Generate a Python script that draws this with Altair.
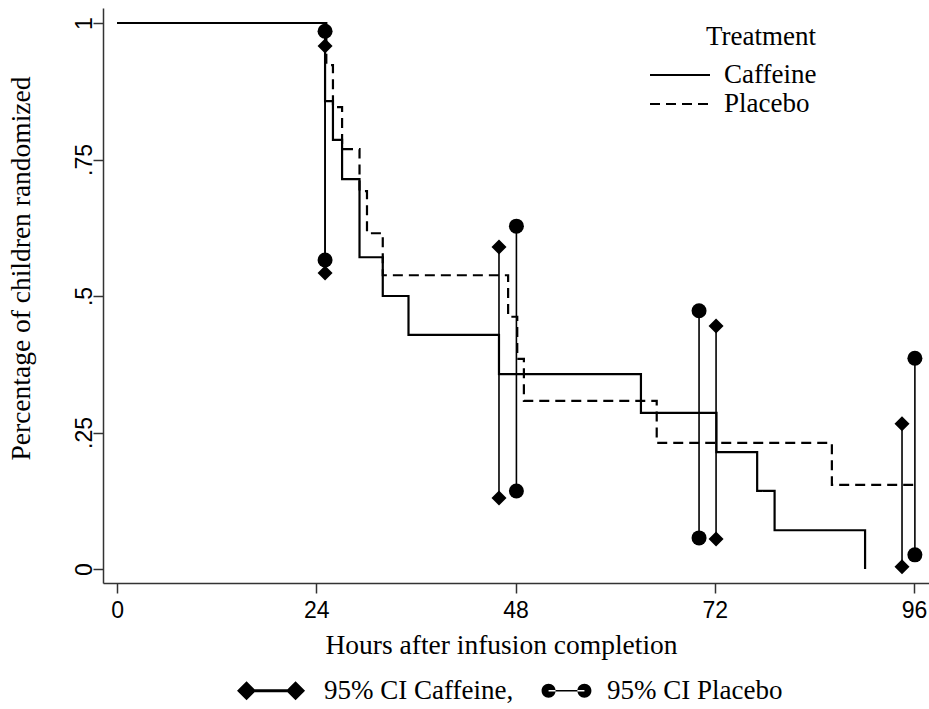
import altair as alt
import pandas as pd

# Kaplan-Meier style step curves (hours, proportion)
caf_hours = [0, 25.05, 26.0, 27.1, 29.2, 32.0, 35.1, 46.0, 63.1, 72.2, 77.1, 79.2, 90.1]
caf_surv = [1.0, 0.857, 0.786, 0.714, 0.571, 0.5, 0.429, 0.357, 0.286, 0.214, 0.143, 0.071, 0.0]
pla_hours = [0, 25.2, 26.0, 27.1, 29.2, 30.1, 32.0, 47.1, 48.2, 49.0, 65.0, 86.1, 96.1]
pla_surv = [1.0, 0.923, 0.846, 0.769, 0.692, 0.615, 0.538, 0.462, 0.385, 0.308, 0.231, 0.154, 0.154]

# 95% confidence intervals
caf_ci_hours = [25.05, 46.0, 72.15, 94.55]
caf_ci_lo = [0.542, 0.13, 0.055, 0.004]
caf_ci_hi = [0.958, 0.59, 0.445, 0.266]
pla_ci_hours = [25.05, 48.1, 70.1, 96.1]
pla_ci_lo = [0.566, 0.143, 0.057, 0.026]
pla_ci_hi = [0.985, 0.628, 0.473, 0.386]

treatments = ["Caffeine", "Placebo"]
ci_groups = ["95% CI Caffeine,", "95% CI Placebo"]
x_ticks = [0, 24, 48, 72, 96]
y_ticks = [0, 0.25, 0.5, 0.75, 1]

SERIF = "Liberation Serif"
SANS = "Liberation Sans Narrow, Liberation Sans, Arial, sans-serif"

steps = pd.DataFrame({
    "hours": caf_hours + pla_hours,
    "surv": caf_surv + pla_surv,
    "treatment": [treatments[0]] * len(caf_hours) + [treatments[1]] * len(pla_hours),
})

ci = pd.DataFrame({
    "hours": caf_ci_hours + pla_ci_hours,
    "lo": caf_ci_lo + pla_ci_lo,
    "hi": caf_ci_hi + pla_ci_hi,
    "group": [ci_groups[0]] * len(caf_ci_hours) + [ci_groups[1]] * len(pla_ci_hours),
})
ci_ends = pd.concat([
    ci[["hours", "group"]].assign(val=ci["lo"]),
    ci[["hours", "group"]].assign(val=ci["hi"]),
], ignore_index=True)

xscale = alt.Scale(domain=[-1.7, 97.8], nice=False, zero=False)
yscale = alt.Scale(domain=[-0.0256, 1.0275], nice=False, zero=False)

x_axis = alt.Axis(
    values=x_ticks, title="Hours after infusion completion", grid=False,
    labelFont=SANS, labelFontSize=23, labelPadding=6, tickSize=10,
    titleFont=SERIF, titleFontSize=27.5, titleFontWeight="normal", titlePadding=9,
    titleX=398, titleAnchor="middle",
)
y_axis = alt.Axis(
    values=y_ticks, title="Percentage of children randomized", grid=False,
    labelExpr="datum.value == 0 ? '0' : datum.value == 1 ? '1' : slice(format(datum.value, '.2~f'), 1)",
    labelFont=SANS, labelFontSize=23, labelAngle=270, labelAlign="center",
    labelBaseline="bottom", labelPadding=-3, tickSize=10,
    titleFont=SERIF, titleFontSize=27.5, titleFontWeight="normal", titlePadding=38,
    titleY=260, titleAnchor="middle",
)

lines = alt.Chart(steps).mark_line(interpolate="step-after", color="black", strokeWidth=2.2).encode(
    x=alt.X("hours:Q", scale=xscale, axis=x_axis),
    y=alt.Y("surv:Q", scale=yscale, axis=y_axis),
    strokeDash=alt.StrokeDash(
        "treatment:N",
        scale=alt.Scale(domain=treatments, range=[[1, 0], [10, 6]]),
        legend=alt.Legend(
            title="Treatment", orient="none", legendX=576, legendY=16,
            direction="vertical", symbolType="M-3,0L1,0", symbolSize=900,
            symbolStrokeWidth=2, symbolStrokeColor="black",
            labelFont=SERIF, labelFontSize=27, labelOffset=13, labelLimit=400,
            labelExpr="datum.label + '\u00a0\u00a0'",
            titleFont=SERIF, titleFontSize=27, titleFontWeight="normal",
            titleAnchor="end", titlePadding=8, rowPadding=0,
        ),
    ),
)

rules = alt.Chart(ci).mark_rule(color="black", strokeWidth=1.6).encode(
    x=alt.X("hours:Q", scale=xscale),
    y=alt.Y("lo:Q", scale=yscale),
    y2="hi:Q",
)

ends = alt.Chart(ci_ends).mark_point(filled=True, color="black", opacity=1, size=225).encode(
    x=alt.X("hours:Q", scale=xscale),
    y=alt.Y("val:Q", scale=yscale),
    shape=alt.Shape("group:N", scale=alt.Scale(domain=ci_groups, range=["diamond", "circle"]), legend=None),
)

# legend glyphs: marker - line - marker
diamond_bar = ("M-1.66,0L-1.32,-0.34L-0.98,0L-1.32,0.34Z"
               "M0.09,0L0.43,-0.34L0.77,0L0.43,0.34Z"
               "M-1.2,-0.055L0.3,-0.055L0.3,0.055L-1.2,0.055Z")
circle_bar = ("M-0.89,0A0.25,0.25 0 1,0 -0.39,0A0.25,0.25 0 1,0 -0.89,0Z"
              "M0.39,0A0.25,0.25 0 1,0 0.89,0A0.25,0.25 0 1,0 0.39,0Z"
              "M-0.64,-0.03L0.64,-0.03L0.64,0.03L-0.64,0.03Z")

ci_legend = alt.Chart(ci_ends).transform_filter("datum.hours < -50").mark_point(
    filled=True, color="black", size=3136
).encode(
    x=alt.X("hours:Q", scale=xscale),
    y=alt.Y("val:Q", scale=yscale),
    shape=alt.Shape(
        "group:N",
        scale=alt.Scale(domain=ci_groups, range=[diamond_bar, circle_bar]),
        legend=alt.Legend(
            title=None, orient="none", legendX=152, legendY=654,
            direction="horizontal", symbolSize=3136,
            symbolFillColor="black", symbolStrokeColor="black", symbolStrokeWidth=0.5,
            symbolOpacity=1,
            labelFont=SERIF, labelFontSize=27, labelOffset=12, columnPadding=24,
            labelLimit=400,
        ),
    ),
)

chart = alt.layer(lines, rules, ends, ci_legend).resolve_scale(
    shape="independent"
).properties(
    width=826, height=575,
    padding={"left": 103, "top": 8, "right": 0, "bottom": 126},
    autosize=alt.AutoSizeParams(type="none"),
    background="white",
).configure_view(
    stroke=None
).configure_axis(
    domainColor="#333333", domainWidth=1.5, tickColor="#333333", tickWidth=1.5,
    labelColor="black", titleColor="black",
).configure_legend(
    labelColor="black", titleColor="black",
)

chart.save("out.html", embed_options={"renderer": "svg", "actions": False})
